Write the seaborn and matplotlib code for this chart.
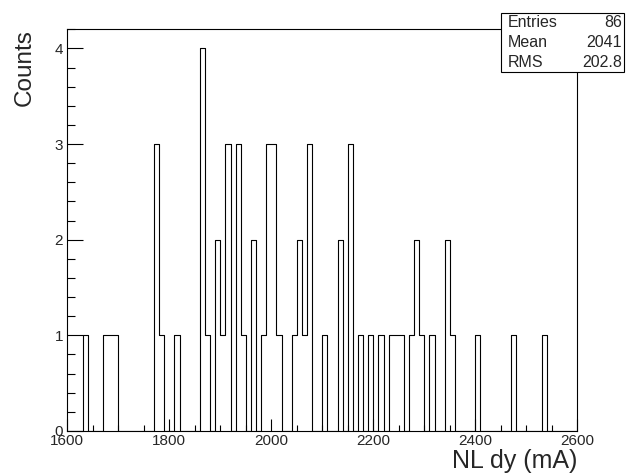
import numpy as np
import pandas as pd
import matplotlib
matplotlib.use("Agg")
import matplotlib.pyplot as plt
from matplotlib.ticker import MultipleLocator
from matplotlib.patches import Rectangle
import seaborn as sns

# ---- data (100 bins of width 10 over 1600-2600) ----
bin_low = [1630, 1670, 1680, 1690, 1770, 1780, 1810, 1860, 1870, 1890, 1900, 1910,
           1930, 1940, 1960, 1980, 1990, 2000, 2010, 2040, 2050, 2060, 2070, 2100,
           2130, 2150, 2170, 2190, 2210, 2230, 2240, 2250, 2270, 2280, 2290, 2310,
           2340, 2350, 2400, 2470, 2530]
counts = [1, 1, 1, 1, 3, 1, 1, 4, 1, 2, 1, 3,
          3, 1, 2, 1, 3, 3, 1, 1, 2, 1, 3, 1,
          2, 3, 1, 1, 1, 1, 1, 1, 1, 2, 1, 1,
          2, 1, 1, 1, 1]
x_range = (1600, 2600)
n_bins = 100
xticks = [1600, 1800, 2000, 2200, 2400, 2600]
yticks = [0, 1, 2, 3, 4]
stats_names = ["Entries", "Mean", "RMS"]
stats_values = ["86", "2041", "202.8"]
x_title = "NL dy (mA)"
y_title = "Counts"

sns.set_theme(style="white")
plt.rcParams["font.family"] = ["Liberation Sans", "DejaVu Sans"]

W, H = 629, 475
fig = plt.figure(figsize=(W / 100, H / 100), dpi=100)
ax = fig.add_axes([67.3 / W, 1 - 431 / H, 510 / W, (431 - 29.3) / H])

bw = (x_range[1] - x_range[0]) / n_bins
df = pd.DataFrame({"center": [b + bw / 2 for b in bin_low], "count": counts})
sns.histplot(data=df, x="center", weights="count", bins=n_bins, binrange=x_range,
             element="step", fill=False, color="black", linewidth=0.8, ax=ax)

ax.set_xlim(*x_range)
ax.set_ylim(0, 4.2)
ax.set_xticks(xticks)
ax.set_yticks(yticks)
ax.xaxis.set_minor_locator(MultipleLocator(50))
ax.yaxis.set_minor_locator(MultipleLocator(0.2))

for s in ax.spines.values():
    s.set_color("black")
    s.set_linewidth(0.8)
    s.set_visible(True)

ax.tick_params(axis="x", which="major", direction="in", length=8.6, width=0.8,
               labelsize=11, pad=2.5, color="black", bottom=True, top=False)
ax.tick_params(axis="x", which="minor", direction="in", length=4.3, width=0.8,
               color="black", bottom=True, top=False)
ax.tick_params(axis="y", which="major", direction="in", length=11.2, width=0.8,
               labelsize=11, pad=3, color="black", left=True, right=False)
ax.tick_params(axis="y", which="minor", direction="in", length=5.8, width=0.8,
               color="black", left=True, right=False)

ax.set_xlabel(x_title, fontsize=18, loc="right")
ax.xaxis.set_label_coords(1.0, -0.046)
ax.set_ylabel(y_title, fontsize=17.5, loc="top")
ax.yaxis.set_label_coords(-0.062, 1.0)

# statistics box
bx0, bx1, by0, by1 = 500.7, 624.3, 12.7, 71.7
box = Rectangle((bx0 / W, 1 - by1 / H), (bx1 - bx0) / W, (by1 - by0) / H,
                transform=fig.transFigure, facecolor="white", edgecolor="black",
                linewidth=0.8, zorder=5)
fig.add_artist(box)
baselines = [27.3, 47.3, 67.3]
for name, val, yb in zip(stats_names, stats_values, baselines):
    fig.text(507.3 / W, 1 - yb / H, name, ha="left", va="baseline",
             fontsize=11.5, zorder=6)
    fig.text(621.7 / W, 1 - yb / H, val, ha="right", va="baseline",
             fontsize=11.5, zorder=6)

fig.savefig("out.png", dpi=100, facecolor="white")
